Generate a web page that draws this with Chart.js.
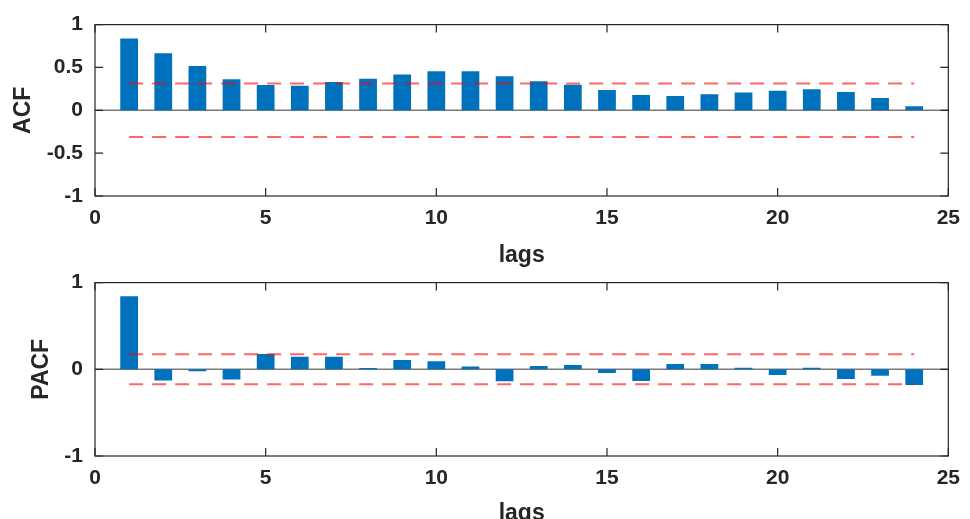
<!DOCTYPE html>
<html>
<head>
<meta charset="utf-8">
<script src="https://cdn.jsdelivr.net/npm/chart.js@4.4.0/dist/chart.umd.min.js"></script>
<style>
html, body { margin:0; padding:0; background:#fff; width:970px; height:519px; overflow:hidden; position:relative; }
.plot { position:absolute; left:0; width:970px; height:275px; }
#acfBox { top:0; }
#pacfBox { top:258px; }
</style>
</head>
<body>
<div class="plot" id="acfBox"><canvas id="acfChart" width="970" height="275"></canvas></div>
<div class="plot" id="pacfBox"><canvas id="pacfChart" width="970" height="275"></canvas></div>
<script>
var lags = [1,2,3,4,5,6,7,8,9,10,11,12,13,14,15,16,17,18,19,20,21,22,23,24];
var acf = [0.839,0.665,0.518,0.363,0.294,0.286,0.329,0.367,0.418,0.456,0.456,0.398,
           0.340,0.298,0.236,0.178,0.166,0.186,0.209,0.228,0.247,0.213,0.143,0.046];
var pacf = [0.843,-0.130,-0.023,-0.119,0.176,0.146,0.146,0.015,0.107,0.092,0.031,-0.138,
            0.038,0.050,-0.042,-0.134,0.061,0.061,0.019,-0.065,0.019,-0.111,-0.073,-0.180];
var acfBound = 0.313;
var pacfBound = 0.173;
var xTicks = [0,5,10,15,20,25];
var acfTicks = [-1,-0.5,0,0.5,1];
var pacfTicks = [-1,0,1];

var textColor = '#262626';
var fontFamily = '"Liberation Sans", Arial, sans-serif';

// matlab style box, inward ticks and bar baseline
var matlabAxes = {
    id: 'matlabAxes',
    beforeDatasetsDraw: function(chart) {
        var ctx = chart.ctx, x = chart.scales.x, y = chart.scales.y;
        var y0 = y.getPixelForValue(0);
        ctx.save();
        ctx.strokeStyle = '#7a7a7a';
        ctx.lineWidth = 1.5;
        ctx.beginPath();
        ctx.moveTo(x.left, y0);
        ctx.lineTo(x.right, y0);
        ctx.stroke();
        ctx.restore();
    },
    afterDraw: function(chart) {
        var ctx = chart.ctx, a = chart.chartArea, x = chart.scales.x, y = chart.scales.y;
        ctx.save();
        ctx.strokeStyle = textColor;
        ctx.lineWidth = 1.2;
        ctx.strokeRect(a.left, a.top, a.right - a.left, a.bottom - a.top);
        ctx.beginPath();
        x.ticks.forEach(function(t) {
            var px = x.getPixelForValue(t.value);
            ctx.moveTo(px, a.bottom); ctx.lineTo(px, a.bottom - 8);
            ctx.moveTo(px, a.top); ctx.lineTo(px, a.top + 8);
        });
        y.ticks.forEach(function(t) {
            var py = y.getPixelForValue(t.value);
            ctx.moveTo(a.left, py); ctx.lineTo(a.left + 8, py);
            ctx.moveTo(a.right, py); ctx.lineTo(a.right - 8, py);
        });
        ctx.stroke();
        ctx.restore();
    }
};

function boundLine(bound) {
    return {
        type: 'line',
        data: lags.map(function(l) { return {x: l, y: bound}; }),
        borderColor: 'rgba(255,0,0,0.6)',
        borderWidth: 2,
        borderDash: [14, 9],
        pointRadius: 0,
        fill: false,
        order: 0
    };
}

function makeChart(id, values, bound, yTicks, yLabel, titlePad, topPad, xHeight) {
    var ctx = document.getElementById(id).getContext('2d');
    return new Chart(ctx, {
        type: 'bar',
        data: {
            datasets: [boundLine(bound), boundLine(-bound), {
                type: 'bar',
                data: lags.map(function(l, i) { return {x: l, y: values[i]}; }),
                backgroundColor: '#0072BD',
                borderWidth: 0,
                barPercentage: 0.52,
                categoryPercentage: 1.0,
                order: 1
            }]
        },
        options: {
            responsive: false,
            animation: false,
            layout: { padding: { top: topPad, right: 15, left: 0, bottom: 0 } },
            plugins: { legend: { display: false }, tooltip: { enabled: false } },
            scales: {
                x: {
                    type: 'linear',
                    min: 0, max: 25,
                    offset: false,
                    grid: { display: false, drawTicks: false },
                    border: { display: false },
                    afterBuildTicks: function(s) { s.ticks = xTicks.map(function(v) { return {value: v}; }); },
                    afterFit: function(s) { s.height = xHeight; },
                    ticks: {
                        padding: 10,
                        color: textColor,
                        font: { family: fontFamily, size: 21, weight: 'bold' },
                        callback: function(v) { return String(v); }
                    },
                    title: {
                        display: true,
                        text: 'lags',
                        color: textColor,
                        padding: { top: 0, bottom: 8 },
                        font: { family: fontFamily, size: 23, weight: 'bold', lineHeight: 1 }
                    }
                },
                y: {
                    min: -1, max: 1,
                    grid: { display: false, drawTicks: false },
                    border: { display: false },
                    afterBuildTicks: function(s) { s.ticks = yTicks.map(function(v) { return {value: v}; }); },
                    afterFit: function(s) { s.width = 95; },
                    ticks: {
                        padding: 12,
                        color: textColor,
                        font: { family: fontFamily, size: 21, weight: 'bold' },
                        callback: function(v) { return String(v); }
                    },
                    title: {
                        display: true,
                        text: yLabel,
                        color: textColor,
                        padding: { top: titlePad, bottom: 0 },
                        font: { family: fontFamily, size: 23, weight: 'bold', lineHeight: 1 }
                    }
                }
            }
        },
        plugins: [matlabAxes]
    });
}

var acfChart = makeChart('acfChart', acf, acfBound, acfTicks, 'ACF', 12, 23, 79);
var pacfChart = makeChart('pacfChart', pacf, pacfBound, pacfTicks, 'PACF', 30, 24, 77);
</script>
</body>
</html>
